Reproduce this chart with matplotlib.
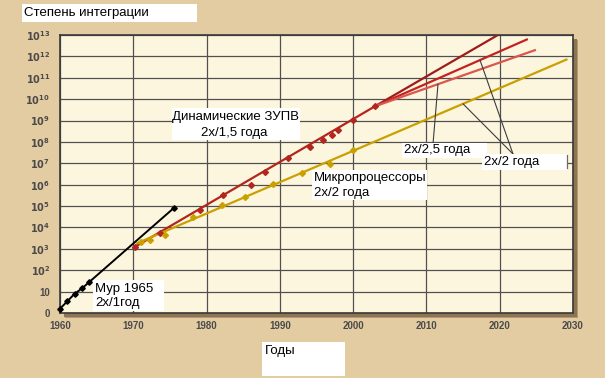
import numpy as np
import matplotlib
matplotlib.use("Agg")
import matplotlib.pyplot as plt
from matplotlib.patches import Rectangle
from matplotlib.lines import Line2D

plt.rcParams['font.family'] = ['Liberation Sans', 'DejaVu Sans']

# ---------------- data (log10 of integration level) ----------------
x_ticks = [1960, 1970, 1980, 1990, 2000, 2010, 2020, 2030]
y_ticks = list(range(0, 14))
y_tick_labels = ['0', '10'] + [r'$\mathbf{10^{%d}}$' % k for k in range(2, 14)]

moore_years = [1960, 1961, 1962, 1963, 1964, 1975.5]
moore_log = [0.2, 0.55, 0.9, 1.15, 1.45, 4.9]

dram_years = [1970.2, 1973.6, 1979.1, 1982.3, 1986.0, 1988.0, 1991.1, 1994.1,
              1995.9, 1997.1, 1998.0, 2000.0, 2003.0]
dram_log = [3.10, 3.75, 4.81, 5.51, 5.98, 6.60, 7.23, 7.77,
            8.08, 8.32, 8.55, 9.02, 9.67]
dram_trend_years = [1970.0, 2003.0]
dram_trend_log = [3.05, 9.67]

# projections after 2003: 2x/1.5 yr, 2x/2 yr, 2x/2.5 yr
proj_years = [[2003.0, 2019.6], [2003.0, 2023.7], [2003.0, 2024.8]]
proj_log = [[9.67, 12.97], [9.67, 12.79], [9.67, 12.29]]
proj_colors = ['#9E1C1C', '#C2231F', '#D9574D']

mpu_years = [1971.1, 1972.3, 1974.3, 1978.2, 1982.1, 1985.2, 1989.1, 1993.0,
             1996.8, 2000.0]
mpu_log = [3.33, 3.41, 3.64, 4.50, 5.05, 5.43, 6.03, 6.53, 6.96, 7.62]
mpu_trend_years = [1970.5, 2029.1]
mpu_trend_log = [3.26, 11.85]

# ---------------- figure ----------------
W, H = 605, 378
BG = '#E4CCA2'
fig = plt.figure(figsize=(W / 100, H / 100), dpi=100, facecolor=BG)

L, R, T, B = 60, 573, 35, 313


def fx(x):
    return x / W


def fy(y):
    return 1 - y / H


# drop shadow of the plot frame
for off, col in [(5, '#B49A74'), (3.5, '#8E7452')]:
    fig.patches.append(Rectangle((fx(L + off), fy(B + off)), (R - L) / W, (B - T) / H,
                                 transform=fig.transFigure, facecolor=col,
                                 edgecolor='none', zorder=-2))

ax = fig.add_axes([fx(L), fy(B), (R - L) / W, (B - T) / H])
ax.set_facecolor('#FDF6DF')
ax.set_xlim(1960, 2030)
ax.set_ylim(0, 13)
ax.set_xticks(x_ticks)
ax.set_xticklabels([str(v) for v in x_ticks], fontweight='bold')
ax.set_yticks(y_ticks)
ax.set_yticklabels(y_tick_labels, fontweight='bold')
ax.tick_params(axis='both', length=0, labelsize=7, labelcolor='#4A4A4A')
ax.tick_params(axis='y', pad=7)
ax.tick_params(axis='x', pad=6)
ax.grid(True, color='#505050', lw=0.9)
ax.set_axisbelow(True)
for s in ax.spines.values():
    s.set_color('#3A3A3A')
    s.set_linewidth(1.2)

# Moore 1965
ax.plot(moore_years, moore_log, color='black', lw=1.4, marker='D', ms=2.8,
        zorder=4, clip_on=False)

# DRAM
ax.plot(dram_trend_years, dram_trend_log, color='#B3261E', lw=1.6, zorder=3)
for yrs, lg, c in zip(proj_years, proj_log, proj_colors):
    ax.plot(yrs, lg, color=c, lw=1.6, zorder=3)
ax.plot(dram_years, dram_log, ls='none', marker='D', ms=3.0, color='#B3261E', zorder=4)

# Microprocessors
ax.plot(mpu_trend_years, mpu_trend_log, color='#C9A000', lw=1.6, zorder=3)
ax.plot(mpu_years, mpu_log, ls='none', marker='D', ms=3.0, color='#C9A000', zorder=4)

# ---------------- annotations ----------------
FS = 9.5


def box(x0, y0, x1, y1):
    ax.add_patch(Rectangle((fx(x0), fy(y1)), (x1 - x0) / W, (y1 - y0) / H,
                           transform=fig.transFigure, facecolor='white',
                           edgecolor='none', zorder=6, clip_on=False))


def txt(x, y, s, ha='left'):
    ax.text(fx(x), fy(y), s, transform=fig.transFigure, ha=ha, va='center',
            fontsize=FS, color='black', zorder=7, clip_on=False)


box(22, 4, 197, 22)
txt(24, 13, 'Степень интеграции')

box(262, 342, 345, 376)
txt(265, 351, 'Годы')

box(93, 280, 164, 311)
txt(95, 289, 'Мур 1965')
txt(95, 303, '2х/1год')

box(172, 108, 300, 140)
txt(235, 117, 'Динамические ЗУПВ', ha='center')
txt(234, 133, '2х/1,5 года', ha='center')

box(312, 170, 427, 200)
txt(314, 178, 'Микропроцессоры')
txt(314, 193, '2х/2 года')

# leader lines
def year_at(px):
    return 1960 + (px - L) / (R - L) * 70


def leader(x0, y0, yrs, lg, px):
    yr = year_at(px)
    val = np.interp(yr, yrs, lg)
    ax.annotate('', xy=(yr, val), xycoords='data',
                xytext=(fx(x0), fy(y0)), textcoords='figure fraction',
                arrowprops=dict(arrowstyle='-', color='#3C3C3C', lw=0.8,
                                shrinkA=0, shrinkB=0), zorder=5)


leader(433, 144, proj_years[2], proj_log[2], 438)
leader(513, 154, proj_years[1], proj_log[1], 480)
leader(513, 154, mpu_trend_years, mpu_trend_log, 463)

box(402, 143, 487, 158)
txt(404, 150.5, '2х/2,5 года')

box(482, 154, 567, 170)
txt(484, 162, '2х/2 года')

# small artifact tick at the right of the last label
fig.add_artist(Line2D([fx(567), fx(567)], [fy(155), fy(168)], color='#6A6A6A', lw=0.9,
                      transform=fig.transFigure, zorder=8))

fig.savefig('out.png', dpi=100, facecolor=BG)
